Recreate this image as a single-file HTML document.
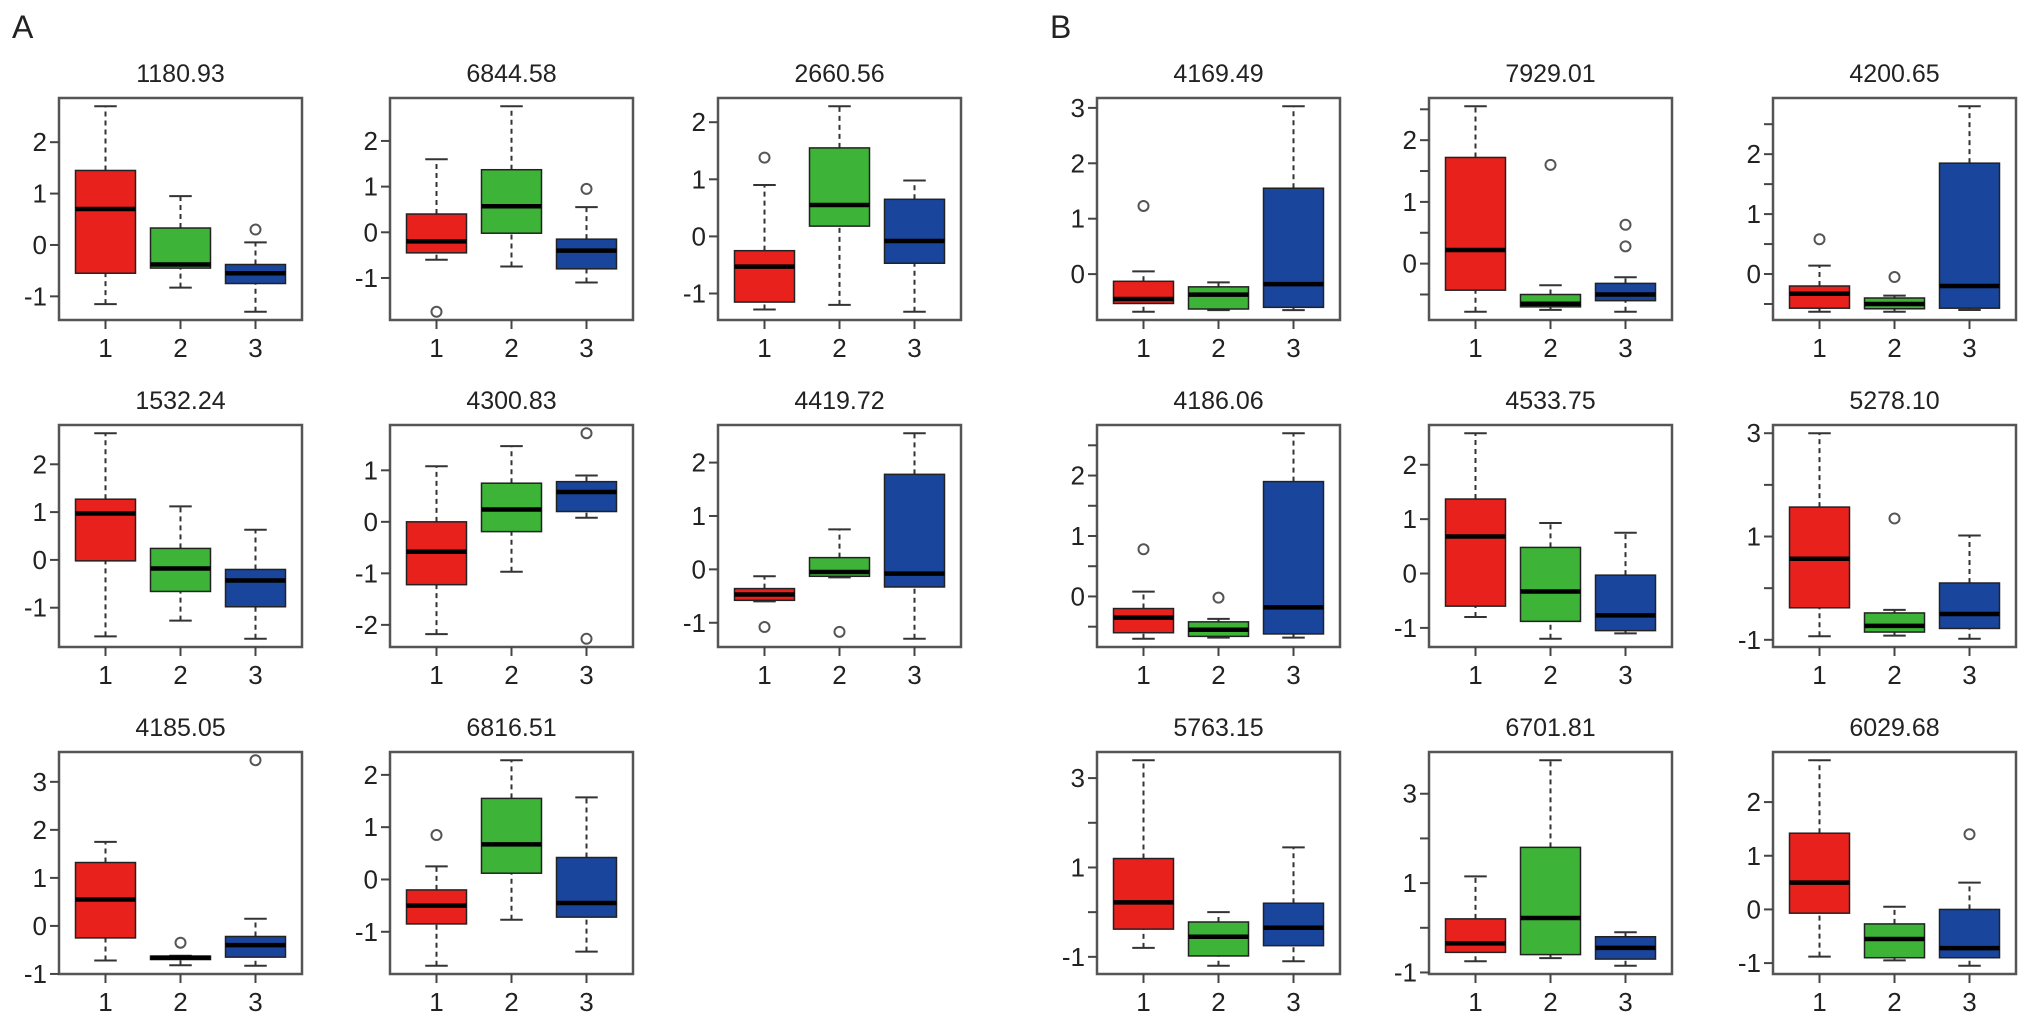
<!DOCTYPE html>
<html><head><meta charset="utf-8"><style>
html,body{margin:0;padding:0;background:#fff;}
svg{display:block;font-family:"Liberation Sans",Arial,sans-serif;}
</style></head><body>
<svg id="chart" width="2031" height="1032" viewBox="0 0 2031 1032" xmlns="http://www.w3.org/2000/svg">
<text x="12" y="38" font-size="32" fill="#222">A</text>
<text x="1050" y="38" font-size="32" fill="#222">B</text>
</svg>
<script>
// Panel titles
const titles = ["1180.93","6844.58","2660.56","1532.24","4300.83","4419.72","4185.05","6816.51",
"4169.49","7929.01","4200.65","4186.06","4533.75","5278.10","5763.15","6701.81","6029.68"];
// Group categories
const categories = ["1","2","3"];
// Each group: [lowWhisker, q1, median, q3, highWhisker]
const stats = [
 [[-1.15,-0.55,0.7,1.45,2.7],[-0.83,-0.45,-0.38,0.33,0.95],[-1.3,-0.75,-0.55,-0.38,0.05]],
 [[-0.6,-0.45,-0.2,0.4,1.6],[-0.75,-0.02,0.57,1.37,2.76],[-1.1,-0.8,-0.4,-0.15,0.55]],
 [[-1.28,-1.15,-0.53,-0.25,0.9],[-1.2,0.18,0.55,1.55,2.28],[-1.32,-0.47,-0.08,0.65,0.98]],
 [[-1.6,-0.02,0.97,1.27,2.65],[-1.27,-0.66,-0.18,0.24,1.12],[-1.65,-0.98,-0.43,-0.2,0.63]],
 [[-2.18,-1.22,-0.58,0.0,1.08],[-0.97,-0.19,0.24,0.75,1.47],[0.08,0.2,0.58,0.78,0.9]],
 [[-0.6,-0.58,-0.47,-0.36,-0.13],[-0.15,-0.13,-0.05,0.22,0.75],[-1.3,-0.33,-0.08,1.78,2.55]],
 [[-0.72,-0.25,0.55,1.32,1.75],[-0.82,-0.7,-0.66,-0.63,-0.62],[-0.83,-0.65,-0.4,-0.22,0.15]],
 [[-1.65,-0.85,-0.5,-0.2,0.25],[-0.77,0.12,0.67,1.55,2.28],[-1.38,-0.72,-0.45,0.42,1.57]],
 [[-0.68,-0.53,-0.45,-0.13,0.05],[-0.65,-0.63,-0.37,-0.23,-0.15],[-0.65,-0.6,-0.18,1.55,3.03]],
 [[-0.78,-0.43,0.22,1.72,2.55],[-0.75,-0.7,-0.65,-0.5,-0.35],[-0.78,-0.6,-0.5,-0.32,-0.22]],
 [[-0.63,-0.57,-0.33,-0.2,0.14],[-0.63,-0.58,-0.5,-0.4,-0.36],[-0.6,-0.57,-0.2,1.85,2.8]],
 [[-0.7,-0.6,-0.35,-0.2,0.08],[-0.68,-0.66,-0.55,-0.42,-0.37],[-0.68,-0.62,-0.18,1.9,2.7]],
 [[-0.8,-0.6,0.68,1.37,2.58],[-1.2,-0.88,-0.33,0.48,0.93],[-1.1,-1.05,-0.77,-0.03,0.75]],
 [[-0.93,-0.38,0.57,1.57,3.0],[-0.92,-0.85,-0.73,-0.48,-0.42],[-0.98,-0.78,-0.5,0.1,1.02]],
 [[-0.8,-0.38,0.22,1.2,3.4],[-1.2,-0.98,-0.55,-0.22,0.0],[-1.1,-0.75,-0.35,0.2,1.45]],
 [[-0.75,-0.55,-0.35,0.2,1.15],[-0.68,-0.6,0.22,1.8,3.75],[-0.85,-0.7,-0.45,-0.2,-0.1]],
 [[-0.88,-0.07,0.5,1.42,2.78],[-0.95,-0.9,-0.55,-0.27,0.05],[-1.05,-0.9,-0.72,0.0,0.5]]
];
// Outliers per panel per group
const outliers = [
 [[],[],[0.3]], [[-1.74],[],[0.95]], [[1.38],[],[]], [[],[],[]],
 [[],[],[1.72,-2.27]], [[-1.08],[-1.17],[]], [[],[-0.35],[3.45]], [[0.85],[],[]],
 [[1.23],[],[]], [[],[1.6],[0.63,0.28]], [[0.58],[-0.05],[]], [[0.78],[-0.02],[]],
 [[],[],[]], [[],[1.35],[]], [[],[],[]], [[],[],[]], [[],[],[1.4]]
];
// Y tick positions and labelled ticks per panel
const yTicks = [
 [-1,0,1,2],[-1,0,1,2],[-1,0,1,2],[-1,0,1,2],[-2,-1,0,1],[-1,0,1,2],[-1,0,1,2,3],[-1,0,1,2],
 [0,1,2,3],[-0.5,0,0.5,1,1.5,2,2.5],[-0.5,0,0.5,1,1.5,2,2.5],[-0.5,0,0.5,1,1.5,2,2.5],
 [-1,0,1,2],[-1,0,1,2,3],[-1,0,1,2,3],[-1,0,1,2,3],[-1,0,1,2]
];
const yLabels = [
 ["-1","0","1","2"],["-1","0","1","2"],["-1","0","1","2"],["-1","0","1","2"],["-2","-1","0","1"],["-1","0","1","2"],["-1","0","1","2","3"],["-1","0","1","2"],
 ["0","1","2","3"],["","0","","1","","2",""],["","0","","1","","2",""],["","0","","1","","2",""],
 ["-1","0","1","2"],["-1","","1","","3"],["-1","","1","","3"],["-1","","1","","3"],["-1","0","1","2"]
];
const fills = ["#e8211c","#3db437","#19459c"];

const NS = "http://www.w3.org/2000/svg";
const svg = document.getElementById('chart');
function mk(tag, attrs, parent){
  const e = document.createElementNS(NS, tag);
  for (const k in attrs) e.setAttribute(k, attrs[k]);
  (parent||svg).appendChild(e);
  return e;
}
const colLeft = [59,390,718,1097,1429,1773];
const rowTop = [98,425,752];
const W = 243, H = 222;
const layout = [[0,0],[1,0],[2,0],[0,1],[1,1],[2,1],[0,2],[1,2],
                [3,0],[4,0],[5,0],[3,1],[4,1],[5,1],[3,2],[4,2],[5,2]];

titles.forEach((t, p) => {
  const L = colLeft[layout[p][0]], T = rowTop[layout[p][1]];
  const g = mk('g', {});
  
  
  // data range
  let vals = [];
  stats[p].forEach((s, i) => { vals = vals.concat(s, outliers[p][i]); });
  const mn = Math.min(...vals), mx = Math.max(...vals), r = mx - mn;
  const lo = mn - 0.04 * r, hi = mx + 0.04 * r;
  const y = v => T + (hi - v) / (hi - lo) * H;
  const x = i => L + (i + 1 - 0.5 + 0.12) / 3.24 * W;
  const unit = W / 3.24;

  const tt = mk('text', {x: L + W / 2, y: T - 16, 'font-size': 25, 'text-anchor': 'middle', fill: '#222'}, g);
  tt.textContent = t;
  
  

  // boxes
  stats[p].forEach((s, i) => {
    const cx = x(i), bw = 0.4 * unit, cw = 0.15 * unit;
    const bg = mk('g', {}, g);
    
    
    mk('line', {x1: cx, x2: cx, y1: y(s[0]), y2: y(s[1]), stroke: '#333', 'stroke-width': 2, 'stroke-dasharray': '5,4'}, bg);
    mk('line', {x1: cx, x2: cx, y1: y(s[3]), y2: y(s[4]), stroke: '#333', 'stroke-width': 2, 'stroke-dasharray': '5,4'}, bg);
    mk('line', {x1: cx - cw, x2: cx + cw, y1: y(s[0]), y2: y(s[0]), stroke: '#333', 'stroke-width': 2}, bg);
    mk('line', {x1: cx - cw, x2: cx + cw, y1: y(s[4]), y2: y(s[4]), stroke: '#333', 'stroke-width': 2}, bg);
    mk('rect', {x: cx - bw, y: y(s[3]), width: 2 * bw, height: Math.max(1, y(s[1]) - y(s[3])), fill: fills[i], stroke: '#222', 'stroke-width': 1.5}, bg);
    mk('line', {x1: cx - bw, x2: cx + bw, y1: y(s[2]), y2: y(s[2]), stroke: '#000', 'stroke-width': 4.5}, bg);
    outliers[p][i].forEach(o => {
      const c = mk('circle', {cx: cx, cy: y(o), r: 5, fill: 'none', stroke: '#555', 'stroke-width': 2}, bg);
      
      
    });
  });

  // frame
  const fr = mk('rect', {x: L, y: T, width: W, height: H, fill: 'none', stroke: '#555', 'stroke-width': 2.5}, g);
  
  

  // x axis
  categories.forEach((c, i) => {
    mk('line', {x1: x(i), x2: x(i), y1: T + H, y2: T + H + 9, stroke: '#444', 'stroke-width': 2}, g);
    const xl = mk('text', {x: x(i), y: T + H + 37, 'font-size': 26, 'text-anchor': 'middle', fill: '#222'}, g);
    xl.textContent = c;
    
    
  });
  // y axis
  yTicks[p].forEach((v, k) => {
    if (y(v) < T - 1 || y(v) > T + H + 1) return;
    mk('line', {x1: L - 9, x2: L, y1: y(v), y2: y(v), stroke: '#444', 'stroke-width': 2}, g);
    if (yLabels[p][k] !== "") {
      const yl = mk('text', {x: L - 12, y: y(v) + 9, 'font-size': 26, 'text-anchor': 'end', fill: '#222'}, g);
      yl.textContent = yLabels[p][k];
      
      
    }
  });
});
</script>
</body></html>
